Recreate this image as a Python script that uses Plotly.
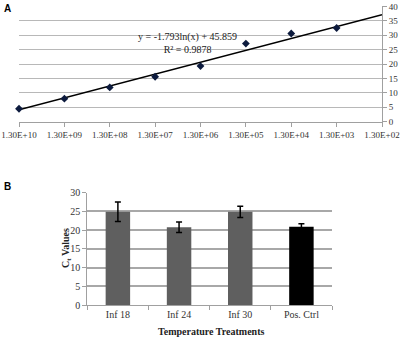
import math
import plotly.graph_objects as go

# ---- Panel A data ----
dilution_x = [1.3e10, 1.3e9, 1.3e8, 1.3e7, 1.3e6, 1.3e5, 1.3e4, 1.3e3, 1.3e2]
dilution_labels = ["1.30E+10", "1.30E+09", "1.30E+08", "1.30E+07", "1.30E+06",
                   "1.30E+05", "1.30E+04", "1.30E+03", "1.30E+02"]
ct_std = [4.5, 8.0, 11.9, 15.6, 19.3, 27.1, 30.6, 32.5, 36.1]
fit_slope = -1.793
fit_intercept = 45.859
fit_r2 = 0.9878
a_yticks = [0, 5, 10, 15, 20, 25, 30, 35, 40]

# ---- Panel B data ----
treatments = ["Inf 18", "Inf 24", "Inf 30", "Pos. Ctrl"]
ct_values = [24.9, 20.8, 24.9, 20.9]
ct_err = [2.6, 1.4, 1.5, 0.8]
bar_colors = ["#5f5f5f", "#5f5f5f", "#5f5f5f", "#000000"]
b_yticks = [0, 5, 10, 15, 20, 25, 30]

W, H = 400, 338
serif = "Liberation Serif, Times New Roman, serif"
tick_font_a = dict(family=serif, size=9, color="#333333")
tick_font_b = dict(family=serif, size=10, color="#333333")

fig = go.Figure()

# Panel A
fig.add_trace(go.Scatter(
    x=[dilution_x[0], dilution_x[-1]],
    y=[fit_slope * math.log(dilution_x[0]) + fit_intercept,
       fit_slope * math.log(dilution_x[-1]) + fit_intercept],
    mode="lines", line=dict(color="#000000", width=1.5),
    xaxis="x", yaxis="y", showlegend=False, cliponaxis=False))
fig.add_trace(go.Scatter(
    x=dilution_x, y=ct_std, mode="markers",
    marker=dict(symbol="diamond", size=6, color="#0d1b3e"),
    xaxis="x", yaxis="y", showlegend=False, cliponaxis=False))

# Panel B
fig.add_trace(go.Bar(
    x=treatments, y=ct_values, width=0.4,
    marker=dict(color=bar_colors, line=dict(width=0)),
    error_y=dict(type="data", array=ct_err, visible=True,
                 color="#000000", thickness=1.5, width=3),
    xaxis="x2", yaxis="y2", showlegend=False))

lx0 = math.log10(dilution_x[0])
lx1 = math.log10(dilution_x[-1])

fig.update_layout(
    width=W, height=H,
    margin=dict(l=0, r=0, t=0, b=0, autoexpand=False),
    paper_bgcolor="white", plot_bgcolor="white",
    xaxis=dict(domain=[19/W, 382/W], type="log", range=[lx0, lx1],
               autorange=False, automargin=False,
               tickvals=dilution_x, ticktext=dilution_labels,
               ticklabeloverflow="allow",
               showgrid=False, showline=True, linecolor="#a0a0a0", linewidth=1,
               ticks="outside", ticklen=4, tickcolor="#a0a0a0",
               tickfont=tick_font_a, anchor="y", zeroline=False),
    yaxis=dict(domain=[(H-121.7)/H, (H-6.4)/H], range=[0, 40],
               autorange=False, automargin=False,
               side="right", tickvals=a_yticks, ticklabeloverflow="allow",
               showgrid=True, gridcolor="#b8b8b8", gridwidth=1,
               showline=True, linecolor="#a0a0a0", linewidth=1,
               ticks="outside", ticklen=4, tickcolor="#a0a0a0",
               tickfont=tick_font_a, anchor="x", zeroline=False),
    xaxis2=dict(domain=[87.3/W, 332/W], type="category", automargin=False,
                showgrid=False, showline=True, linecolor="#a0a0a0", linewidth=1,
                ticks="outside", ticklen=4, tickcolor="#a0a0a0",
                tickson="boundaries",
                tickfont=tick_font_b, anchor="y2"),
    yaxis2=dict(domain=[(H-305)/H, (H-192.7)/H], range=[0, 30],
                autorange=False, automargin=False,
                tickvals=b_yticks,
                showgrid=True, gridcolor="#a8a8a8", gridwidth=1.5,
                showline=True, linecolor="#a0a0a0", linewidth=1,
                ticks="outside", ticklen=4, tickcolor="#a0a0a0",
                tickfont=tick_font_b, anchor="x2", zeroline=False),
    annotations=[
        dict(text="<b>A</b>", x=2/W, y=1-1/H, xref="paper", yref="paper",
             xanchor="left", yanchor="top", showarrow=False,
             font=dict(family="Arial, Liberation Sans, sans-serif", size=10, color="#000")),
        dict(text="<b>B</b>", x=2/W, y=1-179/H, xref="paper", yref="paper",
             xanchor="left", yanchor="top", showarrow=False,
             font=dict(family="Arial, Liberation Sans, sans-serif", size=10, color="#000")),
        dict(text=f"y = {fit_slope}ln(x) + {fit_intercept}<br>R\u00b2 = {fit_r2}",
             x=187/W, y=1-42.5/H, xref="paper", yref="paper",
             xanchor="center", yanchor="middle", showarrow=False,
             font=dict(family=serif, size=10, color="#222")),
        dict(text="<b>C<sub>t</sub> Values</b>", x=66/W, y=1-248/H,
             xref="paper", yref="paper", textangle=-90,
             xanchor="center", yanchor="middle", showarrow=False,
             font=dict(family=serif, size=10, color="#222")),
        dict(text="<b>Temperature Treatments</b>", x=211/W, y=1-331/H,
             xref="paper", yref="paper",
             xanchor="center", yanchor="middle", showarrow=False,
             font=dict(family=serif, size=10, color="#222")),
    ],
)

fig.write_html(
    "out.html",
    config={"displayModeBar": False},
    post_script="document.body.style.margin='0';document.body.style.padding='0';",
)
